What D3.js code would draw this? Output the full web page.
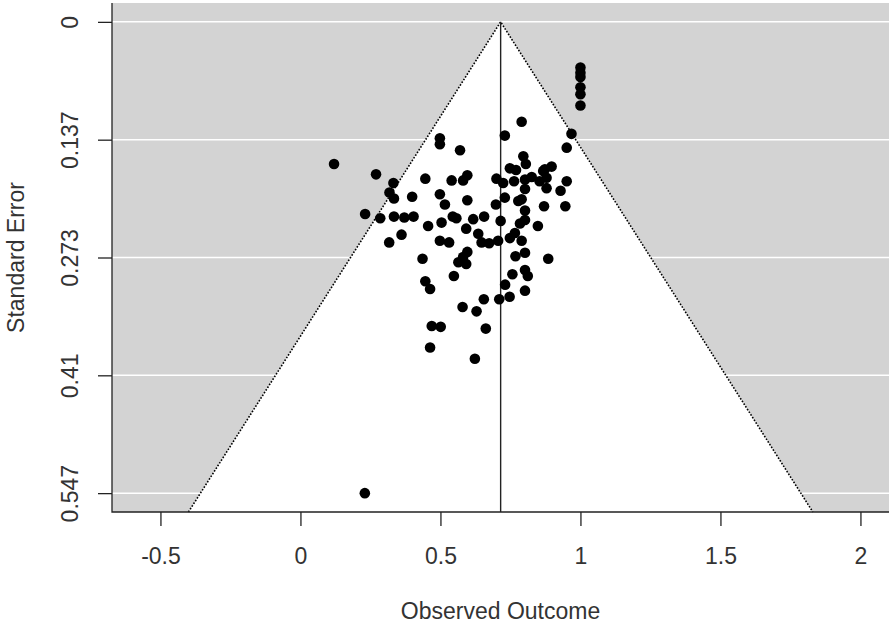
<!DOCTYPE html>
<html>
<head>
<meta charset="utf-8">
<script src="https://cdn.jsdelivr.net/npm/d3@7"></script>
<style>
  body { margin: 0; background: #fff; }
  text { font-family: "Liberation Sans", Arial, sans-serif; fill: #333; }
</style>
</head>
<body>
<div id="chart"></div>
<script>
// funnel plot: observed outcome vs standard error

const ESTIMATE = 0.715;

const effect = [
  1.000, 1.000, 1.000, 1.000, 1.000, 1.000, 0.790, 0.730, 0.968, 0.951,
  0.498, 0.498, 0.570, 0.120, 0.270, 0.796, 0.805, 0.748, 0.770, 0.873,
  0.897, 0.332, 0.446, 0.540, 0.581, 0.596, 0.700, 0.724, 0.763, 0.802,
  0.826, 0.854, 0.879, 0.867, 0.951, 0.318, 0.334, 0.399, 0.498, 0.596,
  0.730, 0.802, 0.790, 0.879, 0.929, 0.778, 0.802, 0.231, 0.285, 0.334,
  0.371, 0.404, 0.516, 0.698, 0.870, 0.946, 0.544, 0.557, 0.617, 0.656,
  0.715, 0.456, 0.504, 0.592, 0.784, 0.802, 0.848, 0.361, 0.317, 0.635,
  0.647, 0.674, 0.706, 0.498, 0.531, 0.748, 0.766, 0.790, 0.596, 0.581,
  0.564, 0.592, 0.436, 0.548, 0.768, 0.802, 0.885, 0.446, 0.463, 0.757,
  0.802, 0.812, 0.731, 0.802, 0.655, 0.710, 0.747, 0.579, 0.629, 0.469,
  0.501, 0.662, 0.463, 0.623, 0.230
];

const stdErr = [
  0.053, 0.059, 0.064, 0.076, 0.084, 0.097, 0.116, 0.132, 0.130, 0.146,
  0.135, 0.142, 0.149, 0.165, 0.177, 0.156, 0.165, 0.170, 0.172, 0.171,
  0.168, 0.187, 0.182, 0.184, 0.184, 0.178, 0.182, 0.187, 0.185, 0.183,
  0.180, 0.185, 0.181, 0.173, 0.185, 0.198, 0.205, 0.203, 0.200, 0.207,
  0.204, 0.194, 0.206, 0.193, 0.196, 0.208, 0.219, 0.223, 0.228, 0.226,
  0.227, 0.226, 0.212, 0.212, 0.214, 0.214, 0.226, 0.228, 0.229, 0.226,
  0.231, 0.237, 0.233, 0.240, 0.234, 0.230, 0.237, 0.247, 0.256, 0.246,
  0.256, 0.257, 0.254, 0.254, 0.256, 0.251, 0.245, 0.254, 0.267, 0.273,
  0.279, 0.281, 0.275, 0.295, 0.272, 0.268, 0.275, 0.301, 0.310, 0.293,
  0.288, 0.295, 0.305, 0.312, 0.322, 0.322, 0.319, 0.331, 0.336, 0.353,
  0.354, 0.356, 0.378, 0.391, 0.547
];

const xTicks = [-0.5, 0, 0.5, 1, 1.5, 2];
const yTicks = [0, 0.13675, 0.2735, 0.41025, 0.547];
const yTickLabels = ["0", "0.137", "0.273", "0.41", "0.547"];

const points = effect.map((d, i) => ({ x: d, se: stdErr[i] }));

const width = 894;
const height = 626;
const plot = { left: 112, right: 889, top: 3, bottom: 512 };

const svg = d3.select("#chart")
  .append("svg")
  .attr("width", width)
  .attr("height", height);

const x = d3.scaleLinear()
  .domain([-0.673, 2.102])
  .range([plot.left, plot.right]);

const y = d3.scaleLinear()
  .domain([-0.0219, 0.5689])
  .range([plot.top, plot.bottom]);

const seMax = y.domain()[1];

// grey background
svg.append("rect")
  .attr("x", plot.left)
  .attr("y", plot.top)
  .attr("width", plot.right - plot.left)
  .attr("height", plot.bottom - plot.top)
  .attr("fill", "#d3d3d3");

// white horizontal grid lines
svg.append("g")
  .selectAll("line")
  .data(yTicks)
  .join("line")
  .attr("x1", plot.left)
  .attr("x2", plot.right)
  .attr("y1", (d) => y(d))
  .attr("y2", (d) => y(d))
  .attr("stroke", "#fff")
  .attr("stroke-width", 1.5);

// funnel region
const funnel = [
  [ESTIMATE - 1.96 * seMax, seMax],
  [ESTIMATE, 0],
  [ESTIMATE + 1.96 * seMax, seMax]
];

const funnelLine = d3.line().x((d) => x(d[0])).y((d) => y(d[1]));

svg.append("path")
  .datum(funnel)
  .attr("fill", "#fff")
  .attr("d", funnelLine);

svg.append("path")
  .datum(funnel)
  .attr("fill", "none")
  .attr("stroke", "#000")
  .attr("stroke-width", 1.6)
  .attr("stroke-dasharray", "1.6,1.6")
  .attr("d", funnelLine);

// reference line at estimate
svg.append("line")
  .attr("x1", x(ESTIMATE))
  .attr("x2", x(ESTIMATE))
  .attr("y1", y(0))
  .attr("y2", y(seMax))
  .attr("stroke", "#222")
  .attr("stroke-width", 1.4);

// points
svg.append("g")
  .selectAll("circle")
  .data(points)
  .join("circle")
  .attr("cx", (d) => x(d.x))
  .attr("cy", (d) => y(d.se))
  .attr("r", 5.3)
  .attr("fill", "#000");

// L-shaped box
svg.append("path")
  .attr("d", `M${plot.left},${plot.top}V${plot.bottom}H${plot.right}`)
  .attr("fill", "none")
  .attr("stroke", "#222")
  .attr("stroke-width", 1.3);

// axes
const xAxis = svg.append("g")
  .attr("transform", `translate(0,${plot.bottom})`)
  .call(d3.axisBottom(x).tickValues(xTicks).tickSize(14).tickSizeOuter(0)
    .tickFormat((d) => String(d)));

xAxis.select(".domain").remove();
xAxis.selectAll(".tick line").attr("stroke", "#222").attr("stroke-width", 1.3);
xAxis.selectAll(".tick text")
  .attr("y", 0)
  .attr("dy", null)
  .attr("transform", "translate(0,52)")
  .style("font-size", "23px")
  .style("font-family", "'Liberation Sans', Arial, sans-serif")
  .attr("fill", "#333");

const yAxis = svg.append("g")
  .attr("transform", `translate(${plot.left},0)`)
  .call(d3.axisLeft(y).tickValues(yTicks).tickSize(14).tickSizeOuter(0)
    .tickFormat((d, i) => yTickLabels[i]));

yAxis.select(".domain").remove();
yAxis.selectAll(".tick line").attr("stroke", "#222").attr("stroke-width", 1.3);
yAxis.selectAll(".tick text")
  .attr("x", 0)
  .attr("dy", null)
  .attr("text-anchor", "middle")
  .attr("transform", "translate(-34,0) rotate(-90)")
  .style("font-size", "23px")
  .style("font-family", "'Liberation Sans', Arial, sans-serif")
  .attr("fill", "#333");

// axis titles
svg.append("text")
  .attr("x", (plot.left + plot.right) / 2)
  .attr("y", 619)
  .attr("text-anchor", "middle")
  .style("font-size", "23px")
  .text("Observed Outcome");

svg.append("text")
  .attr("transform", `translate(24,${(plot.top + plot.bottom) / 2}) rotate(-90)`)
  .attr("text-anchor", "middle")
  .style("font-size", "23px")
  .text("Standard Error");
</script>
</body>
</html>
